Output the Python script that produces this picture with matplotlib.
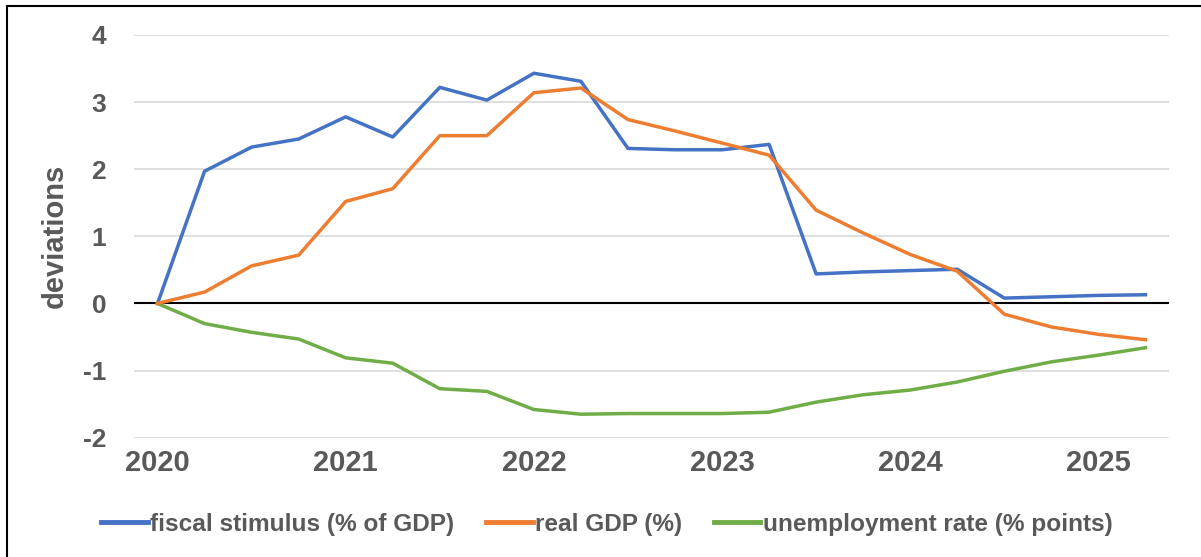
import matplotlib.pyplot as plt
from matplotlib.lines import Line2D

# quarterly observations, 2020Q1 .. 2025Q2
quarters = list(range(22))
year_labels = ['2020', '2021', '2022', '2023', '2024', '2025']
year_ticks = [0, 4, 8, 12, 16, 20]

fiscal = [0.0, 1.97, 2.33, 2.45, 2.78, 2.48, 3.22, 3.03, 3.43, 3.31, 2.31,
          2.29, 2.29, 2.37, 0.44, 0.47, 0.49, 0.51, 0.08, 0.10, 0.12, 0.13]
gdp = [0.0, 0.17, 0.56, 0.72, 1.52, 1.71, 2.50, 2.50, 3.14, 3.21, 2.74,
       2.57, 2.39, 2.21, 1.39, 1.05, 0.73, 0.48, -0.16, -0.35, -0.46, -0.54]
unemp = [0.0, -0.30, -0.43, -0.53, -0.81, -0.89, -1.27, -1.31, -1.58, -1.65, -1.64,
         -1.64, -1.64, -1.62, -1.47, -1.36, -1.29, -1.17, -1.01, -0.87, -0.77, -0.66]

plt.rcParams['font.family'] = ['Liberation Sans', 'DejaVu Sans']
plt.rcParams['axes.unicode_minus'] = False
grey = '#595959'

fig = plt.figure(figsize=(12.01, 5.57), dpi=100)
ax = fig.add_axes([134 / 1201, 1 - 437.7 / 557, 1035 / 1201, 402.7 / 557])

# grid and zero line
for v in [-2, -1, 1, 2, 3, 4]:
    ax.axhline(v, color='#d9d9d9', lw=1.2, zorder=0)
ax.axhline(0, color='black', lw=1.5, zorder=1)

ax.plot(quarters, fiscal, color='#4472C4', lw=2.5, label='fiscal stimulus (% of GDP)', zorder=3)
ax.plot(quarters, gdp, color='#ED7D31', lw=2.5, label='real GDP (%)', zorder=4)
ax.plot(quarters, unemp, color='#70AD47', lw=2.5, label='unemployment rate (% points)', zorder=3)

ax.set_xlim(-0.5, 21.5)
ax.set_ylim(-2, 4)
ax.set_yticks([-2, -1, 0, 1, 2, 3, 4])
ax.set_xticks(year_ticks)
ax.set_xticklabels(year_labels)
for s in ax.spines.values():
    s.set_visible(False)
ax.tick_params(length=0)
ax.tick_params(axis='y', labelsize=19, labelcolor=grey, pad=20)
ax.tick_params(axis='x', labelsize=21, labelcolor=grey, pad=8)
for lab in ax.get_xticklabels() + ax.get_yticklabels():
    lab.set_fontweight('bold')

ax.set_ylabel('deviations', fontsize=21, fontweight='bold', color=grey, labelpad=10)

leg = fig.legend(loc='center', bbox_to_anchor=(607 / 1201, 1 - 524 / 557), ncol=3,
                 frameon=False, handlelength=1.9, handletextpad=0.1, columnspacing=1.3,
                 prop={'size': 17.6, 'weight': 'bold'})
for t in leg.get_texts():
    t.set_color(grey)
for h in leg.legend_handles:
    h.set_linewidth(3.5)

# chart border (left and top edges visible)
fig.add_artist(Line2D([7 / 1201, 7 / 1201], [0, 1 - 6 / 557], color='black', lw=1.5,
                      transform=fig.transFigure))
fig.add_artist(Line2D([7 / 1201, 1], [1 - 6 / 557, 1 - 6 / 557], color='black', lw=1.5,
                      transform=fig.transFigure))

plt.savefig('out.png', dpi=100)
